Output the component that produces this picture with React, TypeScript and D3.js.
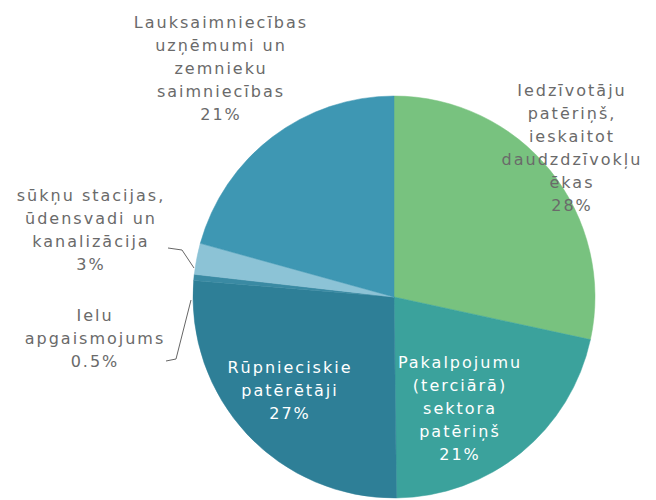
import React from "react";
import * as d3 from "d3";

const categories = [
  "Iedzīvotāju patēriņš, ieskaitot daudzdzīvokļu ēkas",
  "Pakalpojumu (terciārā) sektora patēriņš",
  "Rūpnieciskie patērētāji",
  "Ielu apgaismojums",
  "sūkņu stacijas, ūdensvadi un kanalizācija",
  "Lauksaimniecības uzņēmumi un zemnieku saimniecības",
];
// shares (labels are rounded)
const values = [28.4, 21.4, 26.5, 0.5, 2.5, 20.7];
const percentLabels = ["28%", "21%", "27%", "0.5%", "3%", "21%"];
const labelLines = [
  ["Iedzīvotāju", "patēriņš,", "ieskaitot", "daudzdzīvokļu", "ēkas"],
  ["Pakalpojumu", "(terciārā)", "sektora", "patēriņš"],
  ["Rūpnieciskie", "patērētāji"],
  ["Ielu", "apgaismojums"],
  ["sūkņu stacijas,", "ūdensvadi un", "kanalizācija"],
  ["Lauksaimniecības", "uzņēmumi un", "zemnieku", "saimniecības"],
];
const colors = ["#78c27f", "#3ba29c", "#2e7f97", "#3a8aa3", "#8cc3d6", "#3e97b3"];

const W = 656;
const H = 500;
const cx = 394;
const cy = 297;
const R = 201;

const labelPos: [number, number][] = [
  [572, 96],
  [460, 368],
  [290, 373],
  [95, 321],
  [91, 201],
  [221, 28],
];
const labelFill = ["#6a6a6a", "#ffffff", "#ffffff", "#6a6a6a", "#6a6a6a", "#6a6a6a"];
const lineH = 23;

export default function App() {
  const pie = d3
    .pie<number>()
    .sort(null)
    .value((d) => d)
    .startAngle(0)
    .endAngle(2 * Math.PI);
  const arcs = pie(values);
  const arc = d3.arc<d3.PieArcDatum<number>>().innerRadius(0).outerRadius(R);

  const leader1 = d3.line()([
    [168, 248],
    [182, 250],
    [194, 268],
  ]);
  const leader2 = d3.line()([
    [166, 361],
    [176, 359],
    [191, 300],
  ]);

  return (
    <div style={{ position: "absolute", left: 0, top: 0 }}>
      <svg width={W} height={H} style={{ display: "block", background: "#fff" }}>
        <g transform={`translate(${cx},${cy})`}>
          {arcs.map((a, i) => (
            <path key={i} d={arc(a) || ""} fill={colors[i]} stroke={colors[i]} strokeWidth={0.5} />
          ))}
        </g>
        <path d={leader1 || ""} fill="none" stroke="#666" strokeWidth={1} />
        <path d={leader2 || ""} fill="none" stroke="#666" strokeWidth={1} />
        {labelLines.map((lines, i) => {
          const all = [...lines, percentLabels[i]];
          return (
            <text
              key={i}
              x={labelPos[i][0]}
              y={labelPos[i][1]}
              textAnchor="middle"
              fill={labelFill[i]}
              style={{ fontFamily: "DejaVu Sans", fontSize: 16, letterSpacing: 2 }}
            >
              {all.map((l, j) => (
                <tspan key={j} x={labelPos[i][0]} dy={j === 0 ? 0 : lineH}>
                  {l}
                </tspan>
              ))}
            </text>
          );
        })}
      </svg>
    </div>
  );
}
